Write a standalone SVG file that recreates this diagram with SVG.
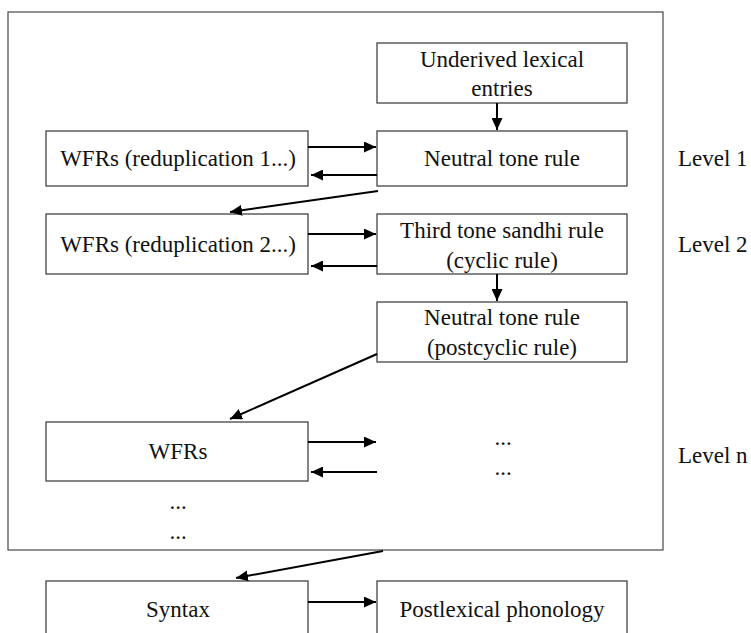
<svg xmlns="http://www.w3.org/2000/svg" width="751" height="633" viewBox="0 0 751 633">
  <defs>
    <marker id="ah" viewBox="0 0 12 11" refX="12" refY="5.5" markerWidth="12" markerHeight="11" markerUnits="userSpaceOnUse" orient="auto">
      <path d="M0,0 L12,5.5 L0,11 Z" fill="#000"/>
    </marker>
    <style>
      .box { fill: #fff; stroke: #444; stroke-width: 1.3; }
      .frame { fill: none; stroke: #555; stroke-width: 1.3; }
      .arr { fill: none; stroke: #000; stroke-width: 2; marker-end: url(#ah); }
      text { font-family: "Liberation Serif", "Times New Roman", serif; font-size: 23px; fill: #111; }
      .c { text-anchor: middle; }
    </style>
  </defs>
  <rect width="751" height="633" fill="#fff"/>

  <!-- lexical component frame -->
  <rect class="frame" x="8" y="12" width="655" height="538"/>

  <g id="underived">
    <rect class="box" x="377" y="43" width="250" height="60"/>
    <text class="c" x="502" y="67">Underived lexical</text>
    <text class="c" x="502" y="96">entries</text>
  </g>
  <g id="neutral1">
    <rect class="box" x="377" y="131" width="250" height="55"/>
    <text class="c" x="502" y="166">Neutral tone rule</text>
  </g>
  <g id="wfr1">
    <rect class="box" x="46" y="131" width="262" height="55"/>
    <text class="c" x="178" y="166">WFRs (reduplication 1...)</text>
  </g>
  <g id="wfr2">
    <rect class="box" x="46" y="214" width="262" height="60"/>
    <text class="c" x="178" y="252">WFRs (reduplication 2...)</text>
  </g>
  <g id="thirdtone">
    <rect class="box" x="377" y="214" width="250" height="60"/>
    <text class="c" x="502" y="238">Third tone sandhi rule</text>
    <text class="c" x="502" y="268">(cyclic rule)</text>
  </g>
  <g id="neutral2">
    <rect class="box" x="377" y="302" width="250" height="60"/>
    <text class="c" x="502" y="325">Neutral tone rule</text>
    <text class="c" x="502" y="355">(postcyclic rule)</text>
  </g>
  <g id="wfrn">
    <rect class="box" x="46" y="422" width="262" height="59"/>
    <text class="c" x="178" y="459">WFRs</text>
  </g>
  <g id="dots-right">
    <text class="c" x="503" y="445">...</text>
    <text class="c" x="503" y="475">...</text>
  </g>
  <g id="dots-left">
    <text class="c" x="178" y="509">...</text>
    <text class="c" x="178" y="539">...</text>
  </g>
  <g id="syntax">
    <rect class="box" x="46" y="581" width="262" height="60"/>
    <text class="c" x="178" y="617">Syntax</text>
  </g>
  <g id="postlexical">
    <rect class="box" x="377" y="581" width="250" height="60"/>
    <text class="c" x="502" y="617">Postlexical phonology</text>
  </g>

  <g id="levels">
    <text x="678" y="166">Level 1</text>
    <text x="678" y="252">Level 2</text>
    <text x="678" y="463">Level n</text>
  </g>

  <g id="connectors">
    <line class="arr" x1="497" y1="103" x2="497" y2="130"/>
    <line class="arr" x1="308" y1="147" x2="376" y2="147"/>
    <line class="arr" x1="377" y1="175" x2="311" y2="175"/>
    <line class="arr" x1="378" y1="191" x2="230" y2="212"/>
    <line class="arr" x1="308" y1="234" x2="376" y2="234"/>
    <line class="arr" x1="377" y1="266" x2="311" y2="266"/>
    <line class="arr" x1="497" y1="274" x2="497" y2="301"/>
    <line class="arr" x1="377" y1="354" x2="230" y2="419"/>
    <line class="arr" x1="308" y1="442" x2="376" y2="442"/>
    <line class="arr" x1="377" y1="472" x2="311" y2="472"/>
    <line class="arr" x1="383" y1="551" x2="236" y2="578"/>
    <line class="arr" x1="308" y1="602" x2="376" y2="602"/>
  </g>
</svg>
